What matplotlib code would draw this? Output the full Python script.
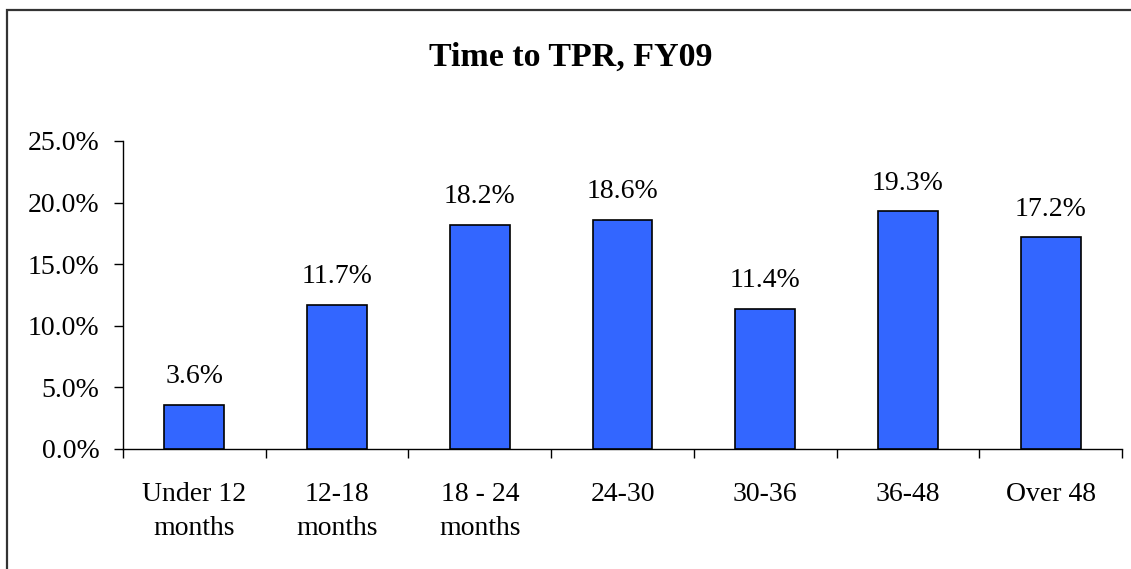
import matplotlib
matplotlib.use("Agg")
import matplotlib.pyplot as plt
from matplotlib.patches import Rectangle
import numpy as np

categories = ["Under 12\nmonths", "12-18\nmonths", "18 - 24\nmonths", "24-30", "30-36", "36-48", "Over 48"]
values = [3.6, 11.7, 18.2, 18.6, 11.4, 19.3, 17.2]
yticks = [0, 5, 10, 15, 20, 25]
title = "Time to TPR, FY09"

plt.rcParams['font.family'] = ['Liberation Serif', 'DejaVu Serif']

W, H = 1131, 569
fig = plt.figure(figsize=(W / 100, H / 100), dpi=100)
fig.patch.set_facecolor('white')

# outer border (extends past right/bottom edges like the reference)
fig.patches.append(Rectangle((7 / W, -0.2), 1.5, 1.2 - 10 / H, transform=fig.transFigure,
                             fill=False, edgecolor='#333333', linewidth=1.6))

ax = fig.add_axes([123 / W, 120 / H, (1122 - 123) / W, (449 - 141) / H])
x = np.arange(len(values))
ax.bar(x, values, width=0.42, color='#3366FF', edgecolor='black', linewidth=1.2, zorder=3)

for xi, v in zip(x, values):
    ax.annotate(f"{v:.1f}%", (xi, v), xytext=(0, 15.5), textcoords='offset points',
                ha='center', va='baseline', fontsize=20)

ax.set_xlim(-0.5, len(values) - 0.5)
ax.set_ylim(0, 25)
ax.set_yticks(yticks)
ax.set_yticklabels([f"{t:.1f}%" for t in yticks])
ax.set_xticks(x)
ax.set_xticklabels(categories, linespacing=1.45)
ax.set_xticks(np.arange(-0.5, len(values)), minor=True)

ax.tick_params(axis='y', direction='out', length=6.5, width=1, pad=10.5, labelsize=20)
ax.tick_params(axis='x', which='major', length=0, pad=24, labelsize=20)
ax.tick_params(axis='x', which='minor', direction='out', length=6.5, width=1)

for s in ['top', 'right']:
    ax.spines[s].set_visible(False)
for s in ['left', 'bottom']:
    ax.spines[s].set_linewidth(1)

fig.text(571 / W, 1 - 66 / H, title, ha='center', va='baseline', fontsize=24.5, fontweight='bold')

fig.savefig("out.png", dpi=100)
